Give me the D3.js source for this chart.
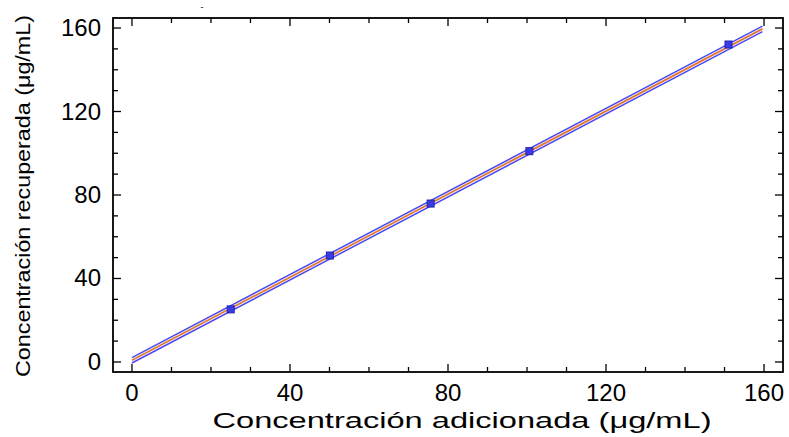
<!DOCTYPE html>
<html>
<head>
<meta charset="utf-8">
<script src="https://cdn.jsdelivr.net/npm/d3@7/dist/d3.min.js"></script>
<style>
  body { margin: 0; background: #fff; }
  svg { display: block; }
  text { font-family: "Liberation Sans", Arial, sans-serif; fill: #000; }
</style>
</head>
<body>
<svg id="chart" width="789" height="437"></svg>
<script>
// ---- data ----
const pointsX = [25, 50.1, 75.6, 100.6, 151];
const pointsY = [25.2, 51.0, 75.9, 101.0, 152.1];
const fitX = [0, 159.6];
const fitY = [0.8, 159.6];
const upperY = [2.1, 160.9];
const lowerY = [-0.5, 158.3];
const xTicks = [0, 40, 80, 120, 160];
const yTicks = [0, 40, 80, 120, 160];
const xTitle = "Concentración adicionada (μg/mL)";
const yTitle = "Concentración recuperada (μg/mL)";

const svg = d3.select("#chart");
const L = 113, R = 783, T = 18, B = 372;
const x = d3.scaleLinear().domain([-4.8, 164.8]).range([L, R]);
const y = d3.scaleLinear().domain([-4.8, 164.8]).range([B, T]);

const minor = d3.range(0, 161, 10);

// ticks (inward, on all four sides)
const tickG = svg.append("g").attr("stroke", "#000").attr("stroke-width", 1.3);
minor.forEach(v => {
  const len = (v % 40 === 0) ? 8 : 5;
  tickG.append("line").attr("x1", x(v)).attr("x2", x(v)).attr("y1", B).attr("y2", B - len);
  tickG.append("line").attr("x1", x(v)).attr("x2", x(v)).attr("y1", T).attr("y2", T + len);
  tickG.append("line").attr("y1", y(v)).attr("y2", y(v)).attr("x1", L).attr("x2", L + len);
  tickG.append("line").attr("y1", y(v)).attr("y2", y(v)).attr("x1", R).attr("x2", R - len);
});

// frame
svg.append("rect").attr("x", L).attr("y", T).attr("width", R - L).attr("height", B - T)
  .attr("fill", "none").attr("stroke", "#000").attr("stroke-width", 1.8);

// tick labels
svg.append("g").selectAll("text").data(xTicks).join("text")
  .attr("x", d => x(d)).attr("y", 401).attr("text-anchor", "middle")
  .attr("font-size", 24).text(d => d);
svg.append("g").selectAll("text").data(yTicks).join("text")
  .attr("x", 101).attr("y", d => y(d) + 8).attr("text-anchor", "end")
  .attr("font-size", 24).text(d => d);

// bands & fit line
const line = d3.line().x(d => x(d[0])).y(d => y(d[1]));
const upper = fitX.map((v, i) => [v, upperY[i]]);
const lower = fitX.map((v, i) => [v, lowerY[i]]);
const fit = fitX.map((v, i) => [v, fitY[i]]);
svg.append("path").attr("d", line(upper)).attr("fill", "none").attr("stroke", "#4a4af5").attr("stroke-width", 1.5);
svg.append("path").attr("d", line(lower)).attr("fill", "none").attr("stroke", "#4a4af5").attr("stroke-width", 1.5);
svg.append("path").attr("d", line(fit)).attr("fill", "none").attr("stroke", "#e07a35").attr("stroke-width", 1.8);

// points
svg.append("g").selectAll("rect").data(pointsX.map((v, i) => [v, pointsY[i]])).join("rect")
  .attr("x", d => x(d[0]) - 3.5).attr("y", d => y(d[1]) - 3.5)
  .attr("width", 7).attr("height", 7)
  .attr("fill", "#3a3ae8").attr("stroke", "#2222a8").attr("stroke-width", 1);

// titles
svg.append("text").attr("x", 462).attr("y", 428).attr("text-anchor", "middle")
  .attr("font-size", 22).attr("textLength", 499).attr("lengthAdjust", "spacingAndGlyphs")
  .text(xTitle);
svg.append("text").attr("transform", "translate(30,196) rotate(-90)").attr("text-anchor", "middle")
  .attr("font-size", 21).attr("textLength", 362).attr("lengthAdjust", "spacingAndGlyphs")
  .text(yTitle);

// small stray mark at top
svg.append("text").attr("x", 202).attr("y", 10).attr("text-anchor", "middle")
  .attr("font-size", 9).attr("fill", "#555").text("-");
</script>
</body>
</html>
